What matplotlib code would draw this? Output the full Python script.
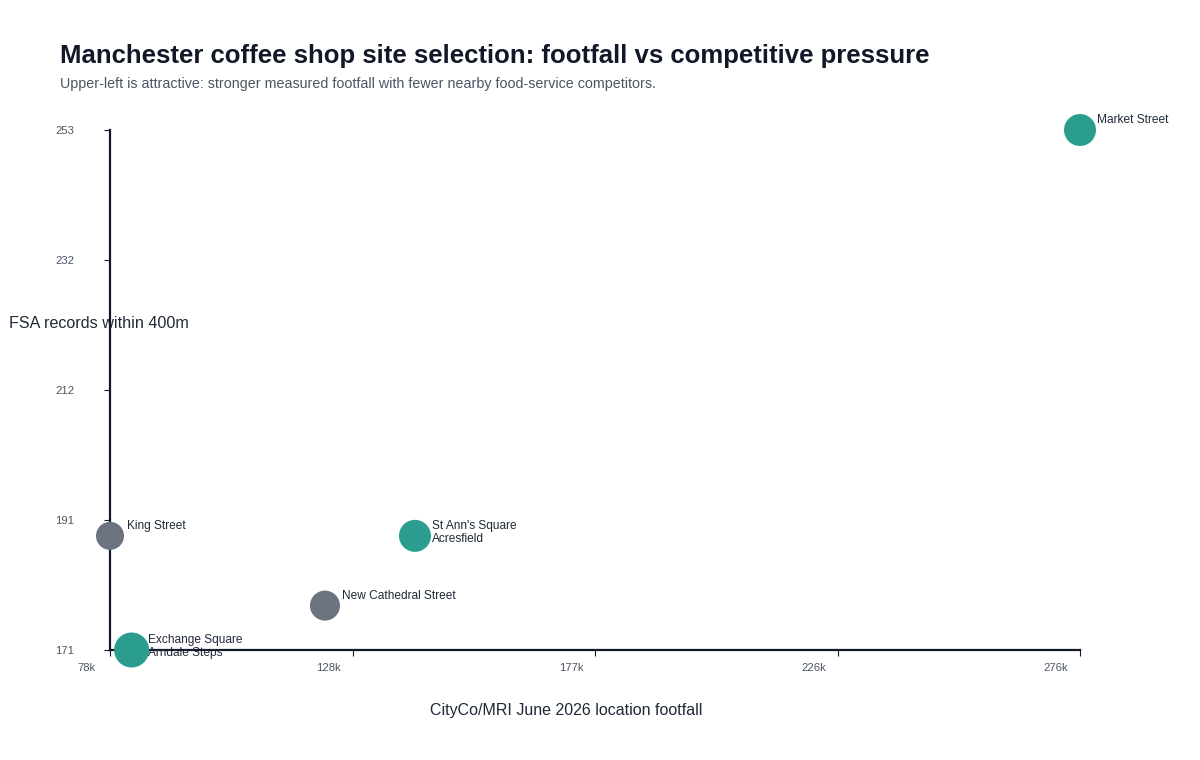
import numpy as np
import matplotlib
matplotlib.use('Agg')
import matplotlib.pyplot as plt
from matplotlib.transforms import ScaledTranslation

plt.rcParams['font.family'] = ['Liberation Sans', 'DejaVu Sans']

# Data
sites = [['Market Street'],
         ['King Street'],
         ["St Ann's Square", 'Acresfield'],
         ['New Cathedral Street'],
         ['Exchange Square', 'Arndale Steps']]
footfall = [275600, 78400, 140400, 122100, 82800]   # CityCo/MRI June 2026
fsa_records = [253, 189, 189, 178, 171]              # FSA records within 400m
shortlisted = [True, False, True, False, True]
marker_px = [32, 28, 32, 30, 35]                     # bubble diameters

x_tick_labels = ['78k', '128k', '177k', '226k', '276k']
y_tick_labels = ['171', '191', '212', '232', '253']

teal = '#2a9d8f'
grey = '#6b7280'
dark = '#111827'
text_dark = '#1f2937'
muted = '#4b5563'

fig = plt.figure(figsize=(12, 7.6), dpi=100)
ax = fig.add_axes([110 / 1200, 110 / 760, 970 / 1200, 520 / 760])

x = np.array(footfall)
y = np.array(fsa_records)
ax.set_xlim(x.min(), x.max())
ax.set_ylim(y.min(), y.max())

colors = [teal if s else grey for s in shortlisted]
sizes = [(d * 0.72) ** 2 for d in marker_px]
ax.scatter(x, y, s=sizes, c=colors, linewidths=0, zorder=3, clip_on=False)

# point labels, one line per site name
for xi, yi, names in zip(x, y, sites):
    for i, name in enumerate(names):
        ax.annotate(name, (xi, yi), xytext=(12, 5 - 9.4 * i), textcoords='offset points',
                    ha='left', va='baseline', fontsize=8.6, color=text_dark,
                    zorder=4, annotation_clip=False)

# axes styling
for side in ['top', 'right']:
    ax.spines[side].set_visible(False)
for side in ['left', 'bottom']:
    ax.spines[side].set_color(dark)
    ax.spines[side].set_linewidth(1.6)

ax.set_xticks(np.linspace(x.min(), x.max(), 5))
ax.set_xticklabels(x_tick_labels)
ax.set_yticks(np.linspace(y.min(), y.max(), 5))
ax.set_yticklabels(y_tick_labels)
ax.tick_params(axis='both', length=4.5, width=0.8, color=dark, labelcolor=muted, labelsize=8.1)
ax.tick_params(axis='x', pad=5)
ax.tick_params(axis='y', pad=21)

shift = ScaledTranslation(-0.24, 0, fig.dpi_scale_trans)
for lbl in ax.get_xticklabels():
    lbl.set_transform(lbl.get_transform() + shift)

# axis titles (y title sits behind the spine as in the reference)
ax.text(99 / 1200, 1 - 324 / 760, 'FSA records within 400m', transform=fig.transFigure,
        ha='center', va='center', fontsize=11.6, color=text_dark, zorder=1, clip_on=False)
fig.text(566 / 1200, 1 - 710 / 760, 'CityCo/MRI June 2026 location footfall',
         ha='center', va='center', fontsize=11.5, color=text_dark)

fig.text(60 / 1200, 1 - 56 / 760,
         'Manchester coffee shop site selection: footfall vs competitive pressure',
         ha='left', va='center', fontsize=18.5, fontweight='bold', color=dark)
fig.text(60 / 1200, 1 - 84 / 760,
         'Upper-left is attractive: stronger measured footfall with fewer nearby food-service competitors.',
         ha='left', va='center', fontsize=10.25, color=muted)

fig.savefig('out.png', dpi=100, facecolor='white')
